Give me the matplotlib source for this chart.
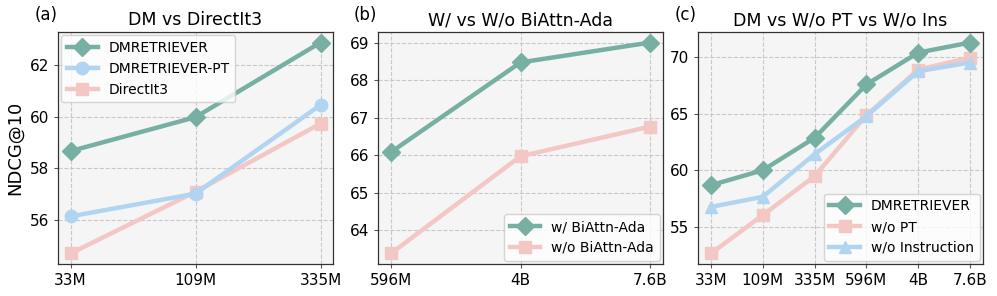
import matplotlib
matplotlib.use("Agg")
import matplotlib.pyplot as plt

# colours
GREEN = "#77b0a2"
BLUE = "#b1d5f1"
PINK = "#f3c7c3"

# (a) DM vs DirectIt3
sizes_a = ["33M", "109M", "335M"]
dm_a = [58.67, 59.98, 62.86]
dm_pt_a = [56.15, 57.03, 60.45]
directit3_a = [54.72, 57.10, 59.73]

# (b) with / without BiAttn-Ada
sizes_b = ["596M", "4B", "7.6B"]
w_biattn = [66.08, 68.47, 69.00]
wo_biattn = [63.38, 65.97, 66.76]

# (c) DM vs w/o PT vs w/o instruction
sizes_c = ["33M", "109M", "335M", "596M", "4B", "7.6B"]
dm_c = [58.68, 60.00, 62.87, 67.59, 70.41, 71.30]
wo_pt_c = [52.64, 56.03, 59.48, 64.87, 68.90, 69.97]
wo_ins_c = [56.76, 57.65, 61.42, 64.78, 68.76, 69.53]

plt.rcParams['font.family'] = 'DejaVu Sans'

fig = plt.figure(figsize=(9.97, 2.96), dpi=100)
ax_a = fig.add_axes([58 / 997, 1 - 264 / 296, 275 / 997, 232 / 296])
ax_b = fig.add_axes([378 / 997, 1 - 264 / 296, 285 / 997, 232 / 296])
ax_c = fig.add_axes([698 / 997, 1 - 264 / 296, 285 / 997, 232 / 296])

line_kw = dict(linewidth=3.2, markersize=9)
leg_kw = dict(fontsize=10, handlelength=2.2, borderaxespad=0.25)


def style(ax, title, tag):
    ax.set_facecolor("#f5f5f5")
    ax.grid(True, linestyle="--", color="#c8c8c8", linewidth=0.8)
    ax.set_axisbelow(True)
    ax.set_title(title, fontsize=12.5, pad=5)
    ax.text(-0.045, 1.075, tag, transform=ax.transAxes, fontsize=12, ha="center", va="center")
    ax.tick_params(labelsize=11, length=3, color="#555555")
    for s in ax.spines.values():
        s.set_color("#333333")
        s.set_linewidth(0.9)


# panel (a)
xa = range(len(sizes_a))
ax_a.plot(xa, dm_a, marker="D", color=GREEN, label="DMRETRIEVER", zorder=3, **line_kw)
ax_a.plot(xa, dm_pt_a, marker="o", color=BLUE, label="DMRETRIEVER-PT", zorder=2, **line_kw)
ax_a.plot(xa, directit3_a, marker="s", color=PINK, label="DirectIt3", zorder=1, **line_kw)
ax_a.set_xticks(list(xa))
ax_a.set_xticklabels(sizes_a)
ax_a.set_yticks([56, 58, 60, 62])
ax_a.set_ylabel("NDCG@10", fontsize=13)
ax_a.legend(loc="upper left", **leg_kw)
style(ax_a, "DM vs DirectIt3", "(a)")

# panel (b)
xb = range(len(sizes_b))
ax_b.plot(xb, w_biattn, marker="D", color=GREEN, label="w/ BiAttn-Ada", **line_kw)
ax_b.plot(xb, wo_biattn, marker="s", color=PINK, label="w/o BiAttn-Ada", **line_kw)
ax_b.set_xticks(list(xb))
ax_b.set_xticklabels(sizes_b)
ax_b.set_yticks([64, 65, 66, 67, 68, 69])
ax_b.legend(loc="lower right", **leg_kw)
style(ax_b, "W/ vs W/o BiAttn-Ada", "(b)")

# panel (c)
xc = range(len(sizes_c))
ax_c.plot(xc, dm_c, marker="D", color=GREEN, label="DMRETRIEVER", zorder=3, **line_kw)
ax_c.plot(xc, wo_pt_c, marker="s", color=PINK, label="w/o PT", zorder=1, **line_kw)
ax_c.plot(xc, wo_ins_c, marker="^", color=BLUE, label="w/o Instruction", zorder=2, **line_kw)
ax_c.set_xticks(list(xc))
ax_c.set_xticklabels(sizes_c)
ax_c.set_yticks([55, 60, 65, 70])
ax_c.legend(loc="lower right", **leg_kw)
style(ax_c, "DM vs W/o PT vs W/o Ins", "(c)")

fig.savefig("out.png", dpi=100)
